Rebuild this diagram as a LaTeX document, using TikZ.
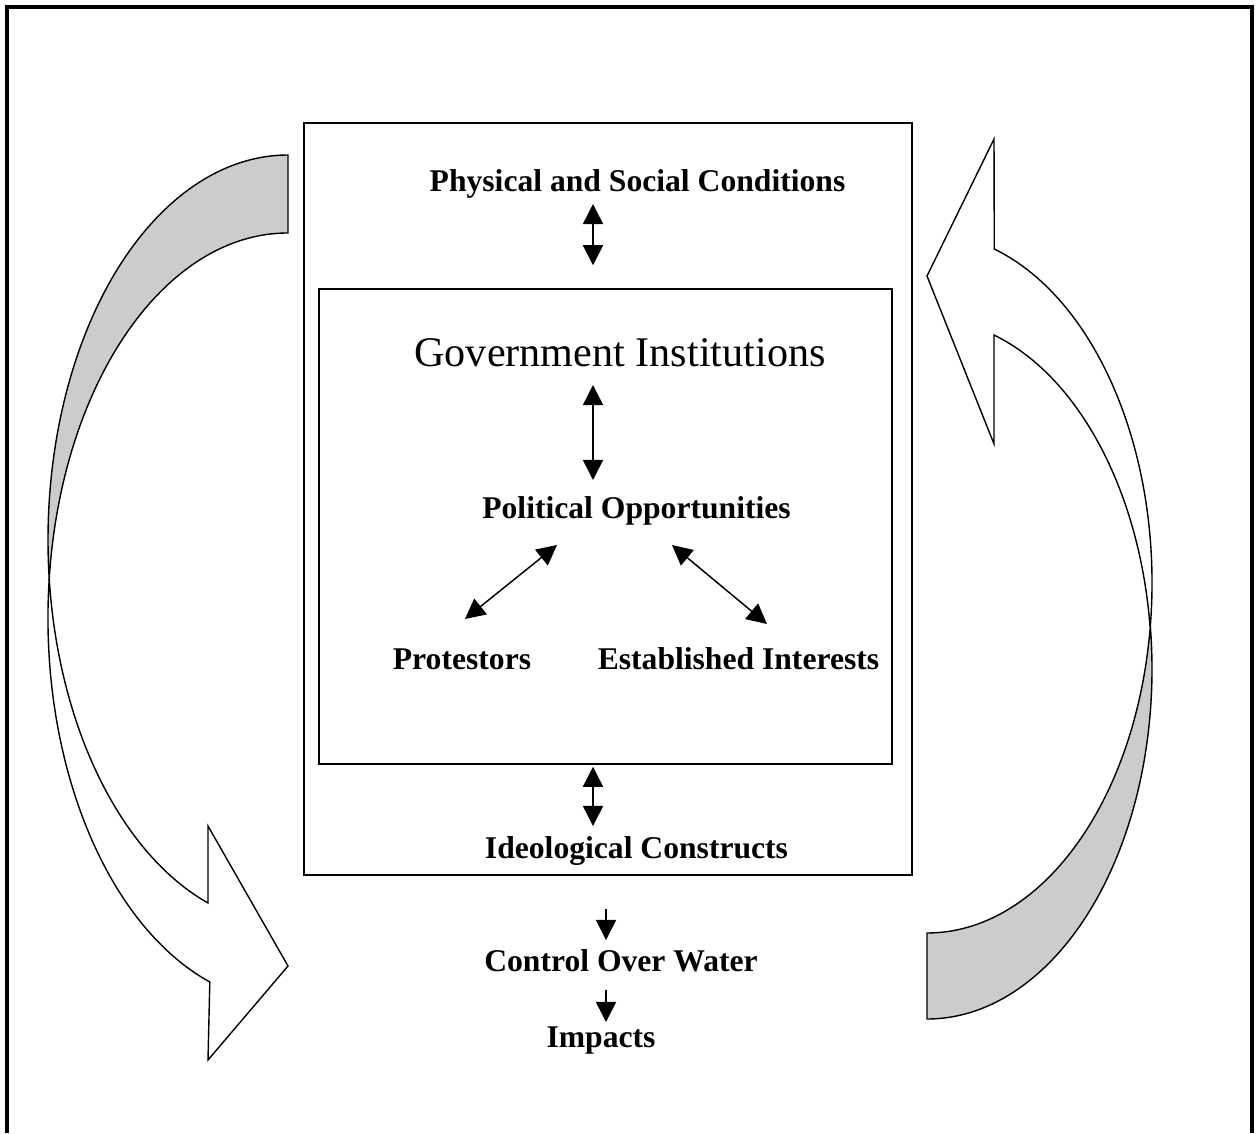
\documentclass[tikz,border=0pt]{standalone}
\usepackage{fontspec}
\setmainfont{Liberation Serif}
\usetikzlibrary{arrows.meta}

\definecolor{bandgray}{RGB}{204,204,204}

\begin{document}
\begin{tikzpicture}[x=0.02cm, y=-0.02cm,
    txt/.style={font=\bfseries\fontsize{18}{22}\selectfont, inner sep=0pt, anchor=base},
    box/.style={draw, line width=0.9pt, inner sep=0pt},
    dbl/.style={{Triangle[width=11.4pt,length=11.4pt]}-{Triangle[width=11.4pt,length=11.4pt]}, line width=0.85pt},
    one/.style={-{Triangle[width=11.4pt,length=11.4pt]}, line width=0.85pt},
    band/.style={draw, line width=0.8pt, line join=miter, x radius=240, y radius=385}]
    \useasboundingbox (0,0) rectangle (1257,1133);

    % page frame, open at the bottom
    \draw[line width=2pt] (7,1133) -- (7,7) -- (1252,7) -- (1252,1133);

    \node (outer) [box, minimum width=12.16cm, minimum height=15.04cm] at (608,499) {};
    \node (inner) [box, minimum width=11.46cm, minimum height=9.5cm] at (605.5,526.5) {};

    \node (phys) [txt] at (637.5,191) {Physical and Social Conditions};
    \node (gov) [txt, font=\fontsize{24}{28}\selectfont] at (620,366) {Government Institutions};
    \node (polopp) [txt] at (636.5,518) {Political Opportunities};
    \node (prot) [txt] at (462,669) {Protestors};
    \node (estab) [txt] at (738.5,669) {Established Interests};
    \node (ideo) [txt] at (636.5,858) {Ideological Constructs};
    \node (ctrl) [txt] at (621,971) {Control Over Water};
    \node (imp) [txt] at (601,1047) {Impacts};

    \draw[dbl] ([shift={(-44.5,13)}]phys.base) -- ([shift={(-12.5,-23)}]inner.north);
    \draw[dbl] ([shift={(-27,19)}]gov.base) -- ([shift={(-43.5,-38)}]polopp.base);
    \draw[dbl] ([shift={(3,-50)}]prot.base) -- ([shift={(-79.5,27)}]polopp.base);
    \draw[dbl] ([shift={(35.5,27)}]polopp.base) -- ([shift={(28.5,-45)}]estab.base);
    \draw[dbl] ([shift={(-12.5,2)}]inner.south) -- ([shift={(-43.5,-32)}]ideo.base);
    \draw[one] ([shift={(-2,33)}]outer.south) -- ([shift={(-15,-31)}]ctrl.base);
    \draw[one] ([shift={(-15,19)}]ctrl.base) -- ([shift={(5,-25)}]imp.base);

    % left curved arrow: the band twists where the two edges cross
    \draw[band, fill=bandgray] (288,155) arc[start angle=-90, end angle=-185.81]
        -- (49.2,579) arc[start angle=-174.19, end angle=-90] -- cycle;
    \draw[band, fill=white] (49.2,579) arc[start angle=-174.19, end angle=-251]
        -- (208,1060) -- (288,966) -- (208,826) -- (208,903)
        arc[start angle=-250.53, end angle=-185.81] -- cycle;

    % right curved arrow
    \draw[band, fill=bandgray, x radius=225, y radius=350] (927,1019) arc[start angle=90, end angle=-7.06]
        -- (1150.3,626) arc[start angle=7.06, end angle=90] -- cycle;
    \draw[band, fill=white, x radius=225, y radius=350] (1150.3,626) arc[start angle=7.06, end angle=-72.6]
        -- (994,139) -- (927,276) -- (994,444) -- (994,335)
        arc[start angle=-72.6, end angle=-7.06] -- cycle;
\end{tikzpicture}
\end{document}
